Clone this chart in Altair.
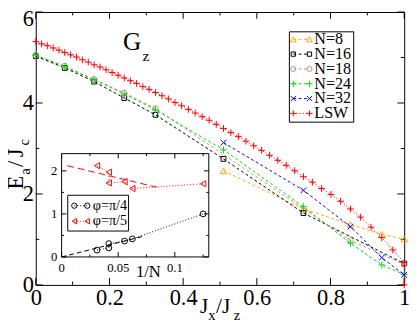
import altair as alt
import pandas as pd

# ---------------- data ----------------
series_names = ["N=8", "N=16", "N=18", "N=24", "N=32", "LSW"]

n8_x = [0.5095, 0.7265, 0.8541, 0.9391, 1.0]
n8_y = [2.51, 1.67, 1.33, 1.11, 1.01]

n16_x = [0.0, 0.0787, 0.1584, 0.2401, 0.3249, 0.5095, 0.7265, 1.0]
n16_y = [5.03, 4.77, 4.47, 4.11, 3.74, 2.77, 1.58, 0.47]

n18_x = [0.0, 0.0787, 0.1584, 0.2401, 0.3249, 0.8541, 1.0]
n18_y = [5.05, 4.81, 4.52, 4.22, 3.88, 0.98, 0.45]

n24_x = [0.0, 0.0787, 0.1584, 0.2401, 0.3249, 0.5095, 0.7265, 0.8541, 0.9391, 1.0]
n24_y = [5.05, 4.80, 4.51, 4.20, 3.85, 2.97, 1.72, 0.92, 0.44, 0.23]

n32_x = [0.5095, 0.7265, 0.8541, 0.9391, 1.0]
n32_y = [3.13, 2.08, 1.28, 0.60, 0.22]

lsw_x = [0.0, 0.0157, 0.0314, 0.0472, 0.0629, 0.0787, 0.0945, 0.1104, 0.1263, 0.1423,
         0.1584, 0.1745, 0.1908, 0.2071, 0.2235, 0.2401, 0.2568, 0.2736, 0.2905, 0.3076,
         0.3249, 0.3424, 0.3600, 0.3779, 0.3959, 0.4142, 0.4327, 0.4515, 0.4706, 0.4899,
         0.5095, 0.5295, 0.5498, 0.5704, 0.5914, 0.6128, 0.6346, 0.6569, 0.6796, 0.7028,
         0.7265, 0.7508, 0.7757, 0.8012, 0.8273, 0.8541, 0.8816, 0.9099, 0.9391, 0.9691,
         1.0, 1.0]
lsw_y = [5.35, 5.30, 5.26, 5.21, 5.16, 5.11, 5.06, 5.01, 4.95, 4.90,
         4.84, 4.79, 4.73, 4.67, 4.61, 4.55, 4.49, 4.43, 4.36, 4.30,
         4.23, 4.16, 4.09, 4.01, 3.94, 3.86, 3.78, 3.70, 3.62, 3.53,
         3.44, 3.35, 3.26, 3.16, 3.06, 2.96, 2.85, 2.74, 2.63, 2.51,
         2.38, 2.26, 2.12, 1.99, 1.84, 1.67, 1.49, 1.27, 1.04, 0.77,
         0.49, 0.0]

# inset: gap vs 1/N
inset_names = ["φ=π/4", "φ=π/5"]
pi4_x = [0.03125, 0.04167, 0.04167, 0.05556, 0.0625, 0.125]
pi4_y = [0.16, 0.21, 0.31, 0.37, 0.42, 1.0]
pi4_fit_x = [0.0, 0.072]
pi4_fit_y = [0.0, 0.48]
pi5_x = [0.03125, 0.04167, 0.04167, 0.05556, 0.0625, 0.125]
pi5_y = [2.12, 1.97, 1.72, 1.75, 1.59, 1.70]
pi5_fit_x = [0.005, 0.084]
pi5_fit_y = [2.12, 1.62]

# ticks
x_major = [0, 0.2, 0.4, 0.6, 0.8, 1.0]
x_minor = [0.1, 0.3, 0.5, 0.7, 0.9]
y_major = [0, 2, 4, 6]
y_minor = [1, 3, 5]
ix_major = [0, 0.05, 0.1]
ix_labels = ["0", "0.05", "0.1"]
ix_minor = [0.025, 0.075, 0.125]
iy_major = [0, 1, 2]
iy_labels = ["0", "1", "2"]
iy_minor = [0.5, 1.5]

# ---------------- layout / style ----------------
PAD_L, PAD_T, PAD_R, PAD_B = 28.5, 0, 8, 38
W, H = 378, 280
LEFT, TOP = 8 + PAD_L, 8 + PAD_T
SERIF = "Liberation Serif"

colors = ["#FFA500", "#000000", "#BC8F8F", "#00DD00", "#0000FF", "#FF0000"]
PLUS = "M-1,0L1,0M0,-1L0,1"
XMARK = "M-1,-1L1,1M-1,1L1,-1"
shapes = ["triangle-up", "square", "circle", PLUS, XMARK, PLUS]
sizes = [45, 24, 34, 49, 36, 49]
dashes = [[3, 2.5], [3, 2.5], [3, 2.5], [3, 2.5], [3, 2.5], [1.2, 2]]

MX = alt.Scale(domain=[0, 1], nice=False, zero=False)
MY = alt.Scale(domain=[0, 6], nice=False, zero=False)
IX = alt.Scale(domain=[0, 0.13], nice=False, zero=False, range=[63 - LEFT, 214 - LEFT])
IY = alt.Scale(domain=[0, 2.4], nice=False, zero=False, range=[259.3 - TOP, 153.3 - TOP])

ONE = pd.DataFrame({"a": [0]})


def px(v):
    return alt.value(v - LEFT)


def py(v):
    return alt.value(v - TOP)


def text(s, x, y, size, angle=0, align="left", baseline="alphabetic"):
    return alt.Chart(ONE).mark_text(
        text=s, font=SERIF, fontSize=size, align=align, baseline=baseline,
        angle=angle, color="black").encode(x=px(x), y=py(y))


def series(xs, ys, xs_scale, ys_scale, color, dash, shape, size):
    df = pd.DataFrame({"x": xs, "y": ys, "i": list(range(len(xs)))})
    enc = dict(x=alt.X("x:Q", scale=xs_scale, axis=None),
               y=alt.Y("y:Q", scale=ys_scale, axis=None))
    out = [alt.Chart(df).mark_line(color=color, strokeWidth=1, strokeDash=dash).encode(
        order="i:Q", **enc)]
    out.append(alt.Chart(df).mark_point(shape=shape, size=size, color=color, filled=False,
                                        strokeWidth=1, opacity=1).encode(**enc))
    return out


def line_only(xs, ys, xs_scale, ys_scale, color, dash):
    df = pd.DataFrame({"x": xs, "y": ys})
    return alt.Chart(df).mark_line(color=color, strokeWidth=1, strokeDash=dash).encode(
        x=alt.X("x:Q", scale=xs_scale, axis=None), y=alt.Y("y:Q", scale=ys_scale, axis=None))


def xticks(vals, scale, y0, length):
    df = pd.DataFrame({"v": vals})
    return alt.Chart(df).mark_rule(color="black", strokeWidth=1).encode(
        x=alt.X("v:Q", scale=scale, axis=None), y=alt.value(y0), y2=alt.value(y0 + length))


def yticks(vals, scale, x0, length):
    df = pd.DataFrame({"v": vals})
    return alt.Chart(df).mark_rule(color="black", strokeWidth=1).encode(
        y=alt.Y("v:Q", scale=scale, axis=None), x=alt.value(x0), x2=alt.value(x0 + length))


layers = []

# main axes (labels only)
axes = alt.Chart(pd.DataFrame({"x": [0, 1], "y": [0, 6]})).mark_point(opacity=0).encode(
    x=alt.X("x:Q", scale=MX, axis=alt.Axis(
        values=x_major, format="~g", ticks=False, domain=False, grid=False, title=None,
        labelFont=SERIF, labelFontSize=23, labelColor="black", labelPadding=2,
        labelFlush=False, labelOverlap=False)),
    y=alt.Y("y:Q", scale=MY, axis=alt.Axis(
        values=y_major, format="~g", ticks=False, domain=False, grid=False, title=None,
        labelFont=SERIF, labelFontSize=23, labelColor="black", labelPadding=2.5,
        labelFlush=False, labelOverlap=False,
        labelOffset={"condition": {"test": "datum.value == 6", "value": 7}, "value": 0})),
)
layers.append(axes)

# main ticks (inside, all four sides)
layers += [xticks(x_major, MX, H, -7), xticks(x_minor, MX, H, -3.5),
           xticks(x_major, MX, 0, 7), xticks(x_minor, MX, 0, 3.5),
           yticks(y_major, MY, 0, 7), yticks(y_minor, MY, 0, 3.5),
           yticks(y_major, MY, W, -7), yticks(y_minor, MY, W, -3.5)]

# main series
all_x = [n8_x, n16_x, n18_x, n24_x, n32_x, lsw_x]
all_y = [n8_y, n16_y, n18_y, n24_y, n32_y, lsw_y]
for i in range(len(series_names)):
    layers += series(all_x[i], all_y[i], MX, MY, colors[i], dashes[i], shapes[i], sizes[i])

# G_z label
layers += [text("G", 126, 47, 26), text("z", 146, 58, 16)]

# axis titles
layers += [text("E", 23, 190, 23, angle=270), text("a", 31, 175, 15, angle=270),
           text("/", 23, 167, 23, angle=270), text("J", 23, 157, 23, angle=270),
           text("c", 30, 145, 15, angle=270)]
layers += [text("J", 205, 316.5, 22), text("x", 213.5, 324, 15),
           text("/J", 221.5, 316.5, 22), text("z", 239.5, 324, 15)]

# main legend
layers.append(alt.Chart(ONE).mark_rect(fill="white", stroke="black", strokeWidth=1).encode(
    x=px(296.7), x2=px(362.7), y=py(28.3), y2=py(121)))
for i, name in enumerate(series_names):
    ry = 36 + 15.2 * i
    layers.append(alt.Chart(ONE).mark_rule(color=colors[i], strokeWidth=1, strokeDash=dashes[i]).encode(
        x=px(300.7), x2=px(317.3), y=py(ry)))
    for mx in (300.7, 317.3):
        layers.append(alt.Chart(ONE).mark_point(shape=shapes[i], size=sizes[i] * 0.8, color=colors[i],
                                                filled=False, strokeWidth=1, opacity=1).encode(
            x=px(mx), y=py(ry)))
    layers.append(text(name, 322.3, ry, 16.5, baseline="middle"))

# inset frame
inset_box = pd.DataFrame({"x0": [0.0], "x1": [0.13], "y0": [0.0], "y1": [2.4]})
layers.append(alt.Chart(inset_box).mark_rect(fill="white", stroke="black", strokeWidth=1).encode(
    x=alt.X("x0:Q", scale=IX, axis=None), x2="x1:Q",
    y=alt.Y("y0:Q", scale=IY, axis=None), y2="y1:Q"))
IB, IT, IL, IR = 259.3 - TOP, 153.3 - TOP, 63 - LEFT, 214 - LEFT
layers += [xticks(ix_major, IX, IB, -5), xticks(ix_minor, IX, IB, -2.5),
           xticks(ix_major, IX, IT, 5), xticks(ix_minor, IX, IT, 2.5),
           yticks(iy_major, IY, IL, 5), yticks(iy_minor, IY, IL, 2.5),
           yticks(iy_major, IY, IR, -5), yticks(iy_minor, IY, IR, -2.5)]

# inset tick labels
ixl = pd.DataFrame({"v": ix_major, "t": ix_labels})
layers.append(alt.Chart(ixl).mark_text(font=SERIF, fontSize=13, baseline="middle", align="center",
                                       color="black").encode(
    x=alt.X("v:Q", scale=IX, axis=None), y=py(271), text="t:N"))
iyl = pd.DataFrame({"v": iy_major, "t": iy_labels})
layers.append(alt.Chart(iyl).mark_text(font=SERIF, fontSize=13, baseline="middle", align="right",
                                       color="black").encode(
    y=alt.Y("v:Q", scale=IY, axis=None), x=px(58.5), text="t:N"))
layers.append(text("1/N", 152, 275, 17, align="center", baseline="middle"))

# inset data
layers.append(line_only(pi4_fit_x, pi4_fit_y, IX, IY, "#000000", [5, 3]))
layers += series(pi4_x, pi4_y, IX, IY, "#000000", [1, 2], "circle", 36)
layers.append(line_only(pi5_fit_x, pi5_fit_y, IX, IY, "#FF0000", [7, 4]))
layers += series(pi5_x, pi5_y, IX, IY, "#FF0000", [1, 2], "triangle-left", 40)

# inset legend
layers.append(alt.Chart(ONE).mark_rect(fill="white", stroke="black", strokeWidth=1).encode(
    x=px(69.3), x2=px(131.7), y=py(196), y2=py(232.7)))
inset_colors = ["#000000", "#FF0000"]
inset_shapes = ["circle", "triangle-left"]
for i, name in enumerate(inset_names):
    ry = 206.7 + 16 * i
    layers.append(alt.Chart(ONE).mark_rule(color=inset_colors[i], strokeWidth=1, strokeDash=[1, 2]).encode(
        x=px(76), x2=px(89.3), y=py(ry)))
    for mx in (76, 89.3):
        layers.append(alt.Chart(ONE).mark_point(shape=inset_shapes[i], size=30, color=inset_colors[i],
                                                filled=False, strokeWidth=1, opacity=1).encode(
            x=px(mx), y=py(ry)))
    layers.append(text(name, 95, ry, 14.5, baseline="middle"))

chart = alt.layer(*layers).resolve_scale(x="independent", y="independent").properties(
    width=W, height=H,
    autosize=alt.AutoSizeParams(type="none"),
    padding={"left": PAD_L, "top": PAD_T, "right": PAD_R, "bottom": PAD_B},
    background="white",
).configure_view(stroke="black", strokeWidth=1)

chart.save("out.html", embed_options={"renderer": "svg", "actions": False})
